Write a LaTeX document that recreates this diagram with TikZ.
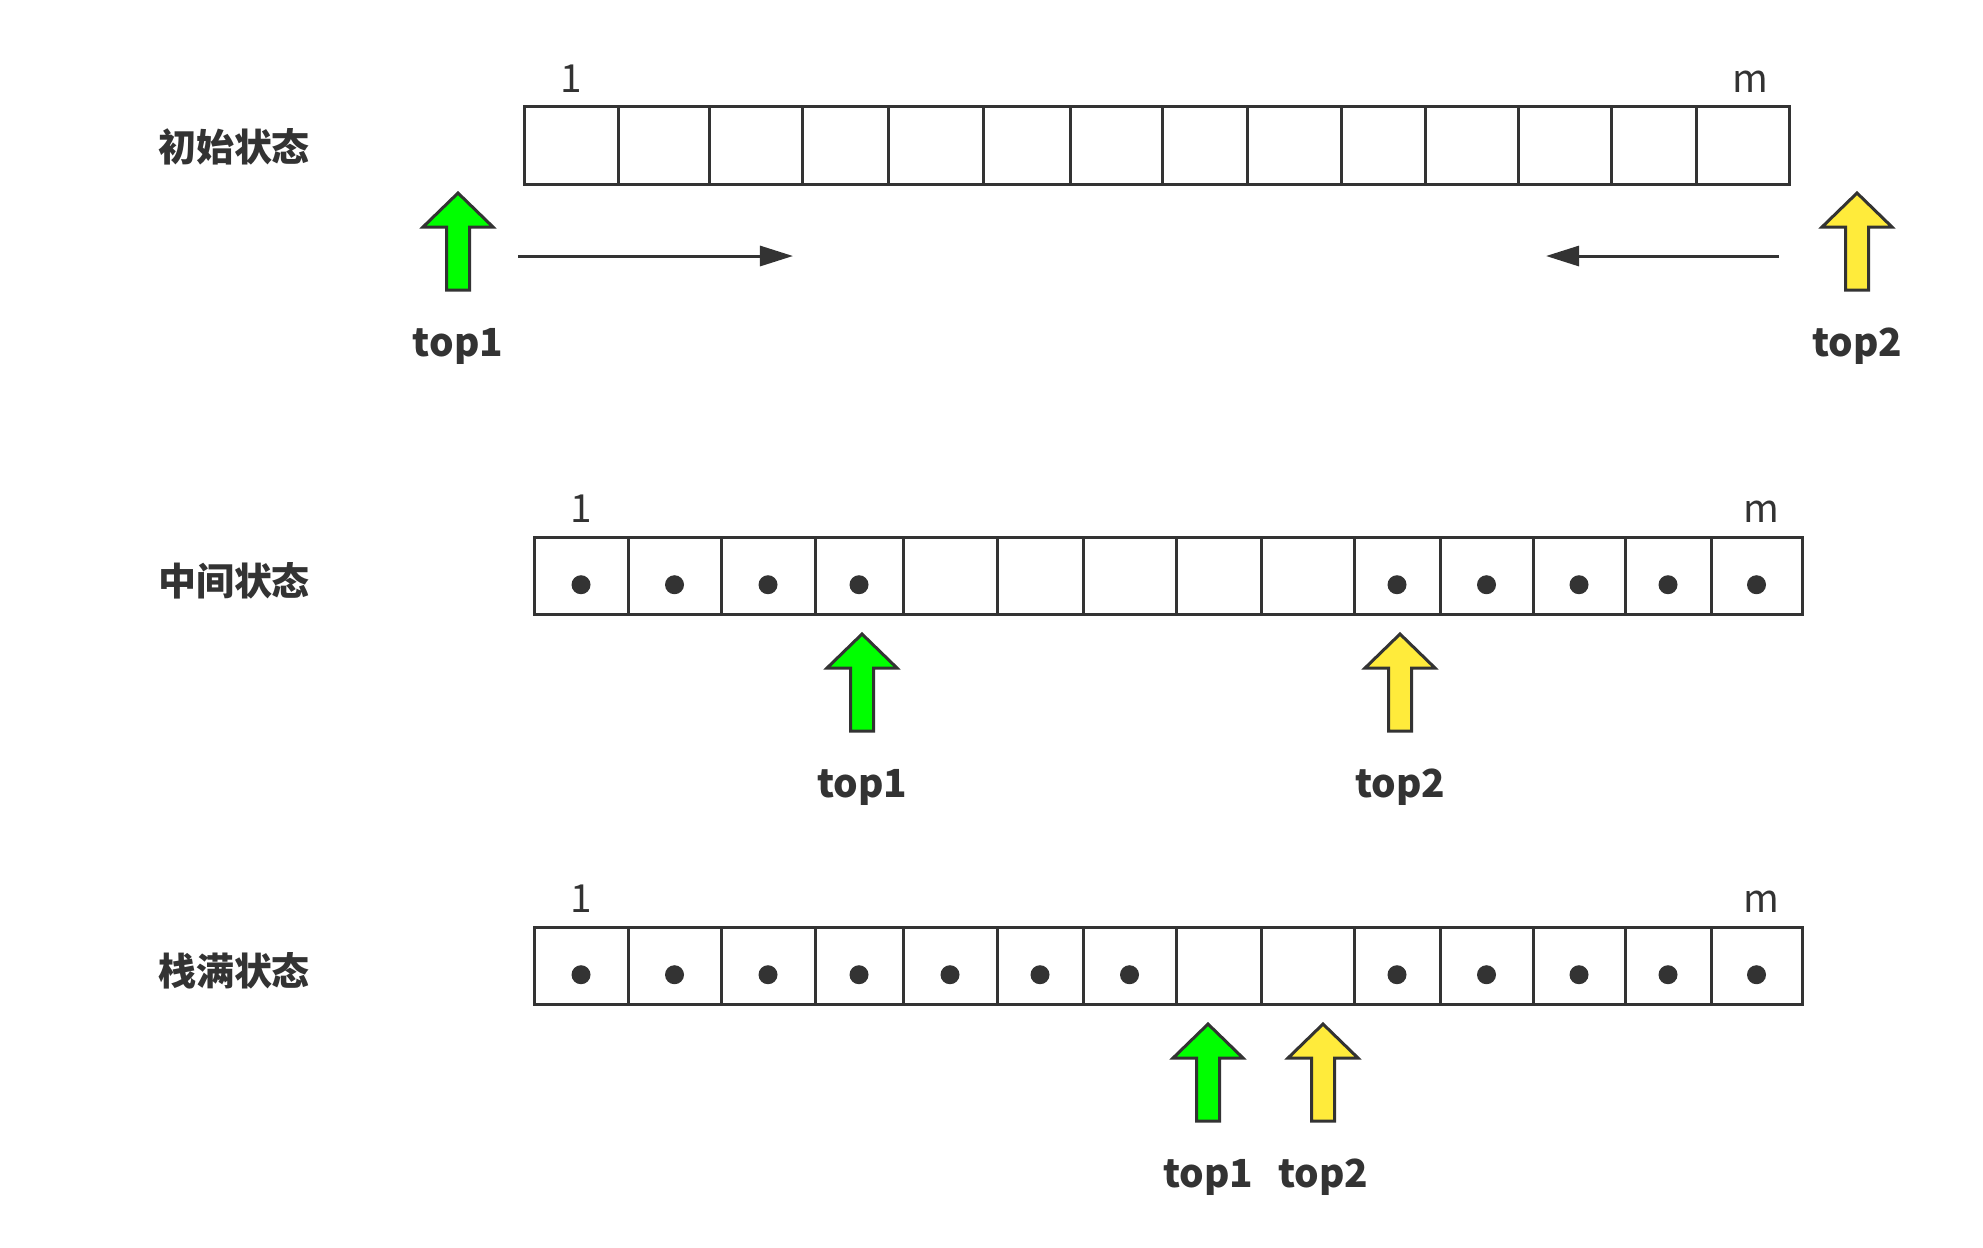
\documentclass[tikz,border=0pt]{standalone}
\usepackage{fontspec}
\usetikzlibrary{arrows.meta,positioning}
\newfontfamily\cjk{Noto Sans CJK SC}
\definecolor{ink}{HTML}{333333}
\definecolor{ptrgreen}{HTML}{00FF00}
\definecolor{ptryellow}{HTML}{FFEB3B}

\begin{document}
\begin{tikzpicture}[x=0.01cm,y=-0.01cm,
  cell/.style={draw=ink,line width=0.03cm,minimum height=0.77cm,inner sep=0pt,outer sep=0pt},
  state/.style={font=\fontsize{10.8}{13}\cjk\bfseries,text=ink},
  idx/.style={font=\fontsize{11}{13}\cjk,text=ink,anchor=base},
  ptr/.style={draw=ink,line width=0.03cm,line join=miter},
  ptrlabel/.style={font=\fontsize{11}{13}\cjk\bfseries,text=ink,anchor=base},
  move/.style={draw=ink,line width=0.03cm,-{Triangle[length=0.33cm,width=0.2cm]}},
  dot/.style={fill=ink}]
  \useasboundingbox (0,0) rectangle (1983,1247);

  % initial state
  \node[state] (s1) at (234,147) {初始状态};
  \foreach \l/\r [count=\i] in {524/618,618/709,709/802,802/888,888/983,983/1070,1070/1162,
      1162/1247,1247/1341,1341/1425,1425/1518,1518/1611,1611/1696,1696/1789}
    \node[cell,minimum width={(\r-\l)*0.01cm}] (a\i) at ({(\l+\r)/2},145.5) {};
  \node[idx] (a1n) at ([yshift=0.145cm]a1.north) {1};
  \node[idx] (a14n) at ([xshift=0.08cm,yshift=0.145cm]a14.north) {m};

  % growth directions
  \coordinate (g1) at (518,256);
  \coordinate (g2) at (793,256);
  \coordinate (h1) at (1779,256);
  \coordinate (h2) at (1546,256);
  \draw[move] (g1) -- (g2);
  \draw[move] (h1) -- (h2);

  % middle and full states
  \node[state] (s2) at (234,580.5) {中间状态};
  \node[state] (s3) at (234,971) {栈满状态};
  \foreach \rw/\cy in {b/575.7,c/965.7}{
    \foreach \l/\r [count=\i] in {534/628,628/721,721/815,815/903,903/997,997/1083,1083/1176,
        1176/1261,1261/1354,1354/1440,1440/1533,1533/1625,1625/1711,1711/1802}
      \node[cell,minimum width={(\r-\l)*0.01cm}] (\rw\i) at ({(\l+\r)/2},\cy) {};
    \node[idx] (\rw1n) at ([yshift=0.145cm]\rw1.north) {1};
    \node[idx] (\rw14n) at ([xshift=0.05cm,yshift=0.145cm]\rw14.north) {m};
  }
  \foreach \i in {1,2,3,4,10,11,12,13,14}
    \fill[dot] ([yshift=-0.09cm]b\i.center) circle (0.095cm);
  \foreach \i in {1,2,3,4,5,6,7,10,11,12,13,14}
    \fill[dot] ([yshift=-0.09cm]c\i.center) circle (0.095cm);

  % top pointers
  \foreach \nm/\ax/\ay/\col/\txt in {p1/458/290/ptrgreen/top1,p2/1857/290/ptryellow/top2,
      q1/862/731/ptrgreen/top1,q2/1400/731/ptryellow/top2,
      r1/1208/1121/ptrgreen/top1,r2/1323/1121/ptryellow/top2}{
    \coordinate (\nm) at (\ax,\ay);
    \draw[ptr,fill=\col] (\nm) ++(-11.5,0) -- ++(0,-63) -- ++(-23.5,0) -- ++(35,-34)
      -- ++(35,34) -- ++(-23.5,0) -- ++(0,63) -- cycle;
    \node[ptrlabel] (\nm-lab) at ([yshift=-0.66cm]\nm) {\txt};
  }
\end{tikzpicture}
\end{document}
